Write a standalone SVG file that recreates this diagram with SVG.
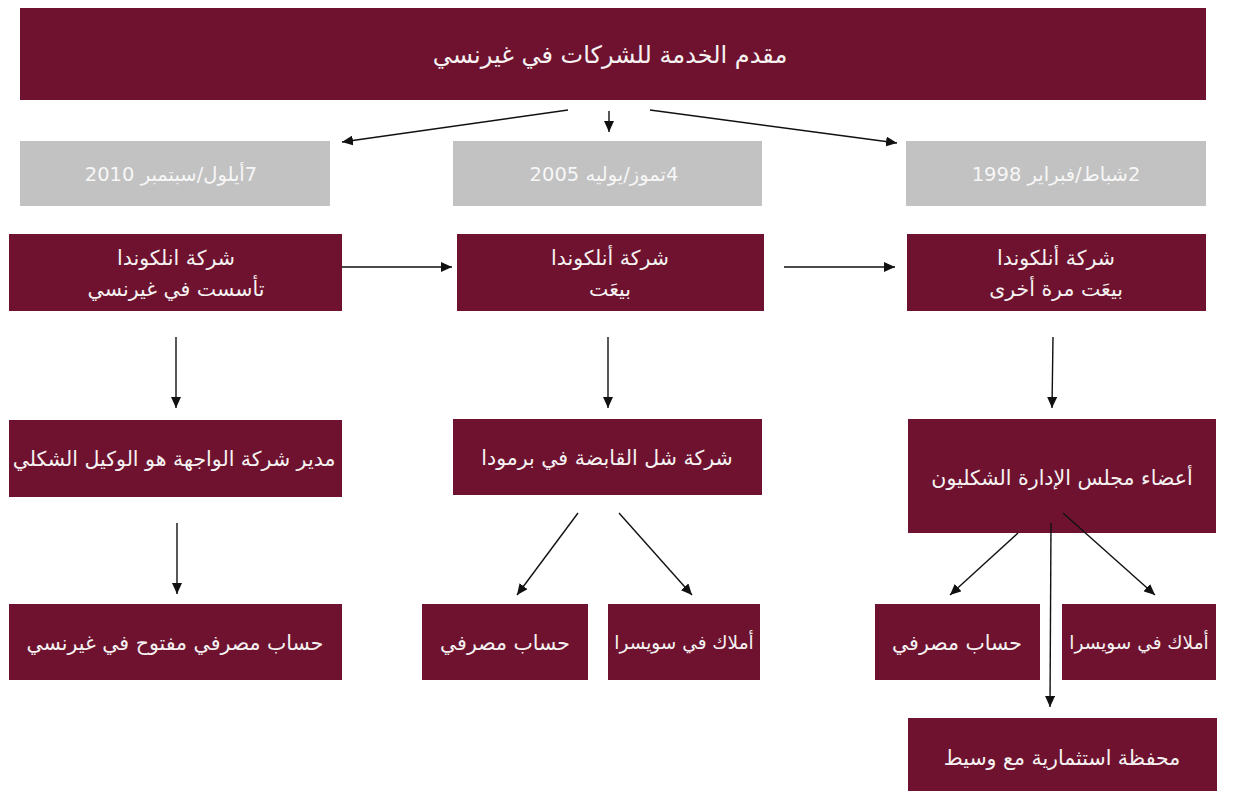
<svg xmlns="http://www.w3.org/2000/svg" width="1234" height="791" viewBox="0 0 1234 791">
<style>
.m{fill:#6e1230}
.g{fill:#c2c2c2}
.t{font-family:"DejaVu Sans",sans-serif;font-size:20.5px;fill:#f6f2f2;text-anchor:middle;direction:rtl}
.h{font-size:24px}
.s{font-size:18.5px}
.gt{fill:#f7f7f7;font-size:19.5px}
.c{stroke:#111;stroke-width:1.4;fill:none;marker-end:url(#ah)}
</style>
<defs>
<marker id="ah" markerUnits="userSpaceOnUse" markerWidth="12" markerHeight="10" refX="11" refY="5" orient="auto">
<path d="M0,0 L11,5 L0,10 Z" fill="#111"/>
</marker>
</defs>
<rect width="1234" height="791" fill="#fff"/>
<g id="header"><rect class="m" x="20" y="8" width="1186" height="92"/><text class="t h" x="610" y="63">مقدم الخدمة للشركات في غيرنسي</text></g>
<g id="date2010"><rect class="g" x="20" y="141" width="310" height="65"/><text class="t gt" x="171" y="181">7أيلول/سبتمبر 2010</text></g>
<g id="date2005"><rect class="g" x="453" y="141" width="309" height="65"/><text class="t gt" x="604" y="181">4تموز/يوليه 2005</text></g>
<g id="date1998"><rect class="g" x="906" y="141" width="300" height="65"/><text class="t gt" x="1056" y="181">2شباط/فبراير 1998</text></g>
<g id="founded"><rect class="m" x="9" y="234" width="333" height="77"/><text class="t" x="176" y="265">شركة انلكوندا</text><text class="t" x="176" y="296">تأسست في غيرنسي</text></g>
<g id="sold"><rect class="m" x="457" y="234" width="307" height="77"/><text class="t" x="610" y="265">شركة أنلكوندا</text><text class="t" x="610" y="296">بيعَت</text></g>
<g id="resold"><rect class="m" x="907" y="234" width="299" height="77"/><text class="t" x="1056" y="265">شركة أنلكوندا</text><text class="t" x="1056" y="296">بيعَت مرة أخرى</text></g>
<g id="director"><rect class="m" x="9" y="420" width="333" height="77"/><text class="t" x="174" y="466">مدير شركة الواجهة هو الوكيل الشكلي</text></g>
<g id="shell"><rect class="m" x="453" y="419" width="309" height="76"/><text class="t" x="607" y="465">شركة شل القابضة في برمودا</text></g>
<g id="board"><rect class="m" x="908" y="419" width="308" height="114"/><text class="t" x="1062" y="485">أعضاء مجلس الإدارة الشكليون</text></g>
<g id="bankG"><rect class="m" x="9" y="604" width="333" height="76"/><text class="t" x="175" y="650">حساب مصرفي مفتوح في غيرنسي</text></g>
<g id="bankM"><rect class="m" x="422" y="604" width="166" height="76"/><text class="t" x="505" y="650">حساب مصرفي</text></g>
<g id="propM"><rect class="m" x="608" y="604" width="152" height="76"/><text class="t s" x="684" y="649">أملاك في سويسرا</text></g>
<g id="bankR"><rect class="m" x="875" y="604" width="165" height="76"/><text class="t" x="957" y="650">حساب مصرفي</text></g>
<g id="propR"><rect class="m" x="1062" y="604" width="154" height="76"/><text class="t s" x="1139" y="649">أملاك في سويسرا</text></g>
<g id="portfolio"><rect class="m" x="908" y="718" width="309" height="73"/><text class="t" x="1062" y="765">محفظة استثمارية مع وسيط</text></g>
<g id="connectors">
<line class="c" x1="568" y1="110" x2="342" y2="142"/>
<line class="c" x1="609" y1="111" x2="609" y2="132"/>
<line class="c" x1="650" y1="110" x2="897" y2="143"/>
<line class="c" x1="342" y1="267" x2="452" y2="267"/>
<line class="c" x1="784" y1="267" x2="895" y2="267"/>
<line class="c" x1="176" y1="337" x2="176" y2="408"/>
<line class="c" x1="608" y1="337" x2="608" y2="408"/>
<line class="c" x1="1053" y1="337" x2="1052" y2="408"/>
<line class="c" x1="177" y1="523" x2="177" y2="594"/>
<line class="c" x1="578" y1="513" x2="517" y2="595"/>
<line class="c" x1="619" y1="513" x2="692" y2="595"/>
<line class="c" x1="1018" y1="533" x2="950" y2="595"/>
<line class="c" x1="1051" y1="523" x2="1050" y2="707"/>
<line class="c" x1="1063" y1="513" x2="1155" y2="595"/>
</g>
</svg>
